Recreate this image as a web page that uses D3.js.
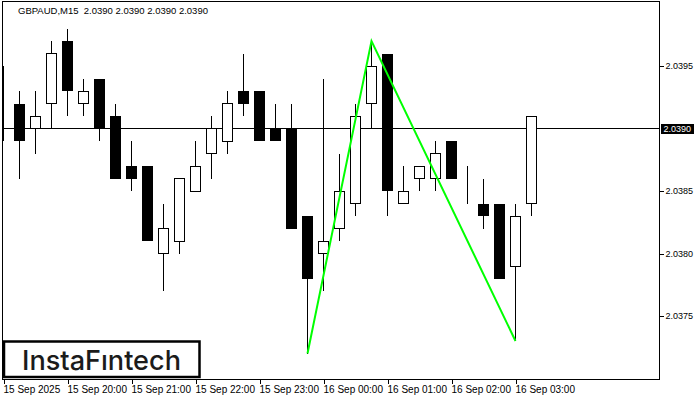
<!DOCTYPE html>
<html><head><meta charset="utf-8">
<script src="https://cdn.jsdelivr.net/npm/d3@7"></script>
<style>body{margin:0;background:#fff}svg{display:block}</style>
</head><body><svg id="c" width="700" height="400"></svg>
<script>
// ---- data (M15 bars) ----
const times = ["19:00","19:15","19:30","19:45","20:00","20:15","20:30","20:45","21:00","21:15","21:30","21:45",
  "22:00","22:15","22:30","22:45","23:00","23:15","23:30","23:45","00:00","00:15","00:30","00:45",
  "01:00","01:15","01:30","01:45","02:00","02:15","02:30","02:45","03:00","03:15"];
const open  = [2.0393,2.0392,2.0390,2.0392,2.0397,2.0392,2.0394,2.0391,2.0387,2.0387,2.0380,2.0381,
  2.0385,2.0388,2.0389,2.0393,2.0393,2.0390,2.0390,2.0383,2.0380,2.0382,2.0384,2.0392,
  2.0396,2.0384,2.0386,2.0386,2.0389,2.0385,2.0384,2.0384,2.0379,2.0384];
const high  = [2.0395,2.0393,2.0393,2.0397,2.0398,2.0394,2.0394,2.0392,2.0389,2.0387,2.0384,2.0386,
  2.0389,2.0391,2.0393,2.0396,2.0393,2.0392,2.0392,2.0383,2.0394,2.0388,2.0392,2.0397,
  2.0396,2.0387,2.0387,2.0389,2.0389,2.0387,2.0386,2.0384,2.0384,2.0391];
const low   = [2.0389,2.0386,2.0388,2.0390,2.0391,2.0391,2.0389,2.0386,2.0385,2.0381,2.0377,2.0380,
  2.0385,2.0386,2.0388,2.0391,2.0389,2.0389,2.0382,2.0372,2.0377,2.0381,2.0383,2.0390,
  2.0383,2.0384,2.0385,2.0385,2.0386,2.0384,2.0382,2.0378,2.0373,2.0383];
const close = [2.0390,2.0389,2.0391,2.0396,2.0393,2.0393,2.0390,2.0386,2.0386,2.0381,2.0382,2.0386,
  2.0387,2.0390,2.0392,2.0392,2.0389,2.0389,2.0382,2.0378,2.0381,2.0385,2.0391,2.0395,
  2.0385,2.0385,2.0387,2.0388,2.0386,2.0385,2.0383,2.0378,2.0383,2.0391];
const xTickIndex  = [0,4,8,12,16,20,24,28,32];
const xTickLabels = ["15 Sep 2025","15 Sep 20:00","15 Sep 21:00","15 Sep 22:00","15 Sep 23:00",
  "16 Sep 00:00","16 Sep 01:00","16 Sep 02:00","16 Sep 03:00"];
const yTicks = [2.0375,2.0380,2.0385,2.0395];
const lastPrice = 2.0390;
const patternIndex = [19,23,32];
const patternPrice = [2.0372,2.0397,2.0373];
const titleText = "GBPAUD,M15  2.0390 2.0390 2.0390 2.0390";
const brandText = "InstaF\u0131ntech";

// ---- layout ----
const svg = d3.select('#c');
const L = 2.5, T = 1.5, R = 659.5, B = 379.5;
const FONT = "'Liberation Sans', Arial, sans-serif";
const x = d3.scaleLinear().domain([0, 1]).range([3.5, 19.5]);
const y = d3.scaleLinear().domain([2.0390, 2.0395]).range([128.5, 66]);

svg.append('rect').attr('width',700).attr('height',400).attr('fill','#fff');

svg.append('clipPath').attr('id','plot').append('rect')
  .attr('x', L + 0.5).attr('y', T + 0.5).attr('width', R - L - 1).attr('height', B - T - 1);

const bars = d3.range(times.length).map(i => ({i, o: open[i], h: high[i], l: low[i], c: close[i]}));
const g = svg.append('g').attr('clip-path','url(#plot)');

// price line
g.append('line').attr('x1', L).attr('x2', R).attr('y1', y(lastPrice)).attr('y2', y(lastPrice))
  .attr('stroke','#000').attr('shape-rendering','crispEdges');

// wicks
g.selectAll('line.w').data(bars).join('line').attr('class','w')
  .attr('x1', d => x(d.i)).attr('x2', d => x(d.i))
  .attr('y1', d => y(d.h)).attr('y2', d => y(d.l))
  .attr('stroke','#000').attr('stroke-width',1).attr('shape-rendering','crispEdges');

// bodies (only bars whose body is fully on screen)
const full = bars.filter(d => x(d.i) - 5.5 >= L);
g.selectAll('rect.bear').data(full.filter(d => d.c < d.o)).join('rect').attr('class','bear')
  .attr('x', d => x(d.i) - 5.5).attr('width', 11)
  .attr('y', d => y(d.o)).attr('height', d => y(d.c) - y(d.o))
  .attr('fill','#000').attr('shape-rendering','crispEdges');
g.selectAll('rect.bull').data(full.filter(d => d.c >= d.o)).join('rect').attr('class','bull')
  .attr('x', d => x(d.i) - 5).attr('width', 10)
  .attr('y', d => y(d.c)).attr('height', d => Math.max(0, y(d.o) - y(d.c)))
  .attr('fill','#fff').attr('stroke','#000').attr('stroke-width',1).attr('shape-rendering','crispEdges');

// pattern line
g.append('path')
  .attr('d', d3.line().x(d => x(d[0])).y(d => y(d[1]))(patternIndex.map((k, j) => [k, patternPrice[j]])))
  .attr('fill','none').attr('stroke','#00ff00').attr('stroke-width',2);

// frame
svg.append('rect').attr('x', L).attr('y', T).attr('width', R - L).attr('height', B - T)
  .attr('fill','none').attr('stroke','#000').attr('shape-rendering','crispEdges');

// right axis
const ya = svg.append('g').attr('transform', `translate(${R},0)`)
  .call(d3.axisRight(y).tickValues(yTicks).tickSize(4).tickPadding(2).tickFormat(d3.format('.4f')));
ya.select('.domain').remove();
ya.selectAll('line').attr('shape-rendering','crispEdges');
ya.selectAll('text').attr('font-family', FONT).attr('font-size', 9).attr('fill','#000');

// last price label
svg.append('rect').attr('x', 661).attr('y', 124).attr('width', 33).attr('height', 10).attr('fill','#000');
svg.append('text').attr('x', 663.5).attr('y', 132.3).text(d3.format('.4f')(lastPrice))
  .attr('font-family', FONT).attr('font-size', 9).attr('fill','#fff');

// bottom axis
const xa = svg.append('g').attr('transform', `translate(0,${B})`)
  .call(d3.axisBottom(x).tickValues(xTickIndex).tickSize(4).tickPadding(2)
    .tickFormat((d, i) => xTickLabels[i]));
xa.select('.domain').remove();
xa.selectAll('line').attr('shape-rendering','crispEdges');
xa.selectAll('text').attr('text-anchor','start').attr('dx', -0.5)
  .attr('font-family', FONT).attr('font-size', 10).attr('fill','#000');

// title
svg.append('text').attr('x', 18).attr('y', 13.7).text(titleText)
  .attr('font-family', FONT).attr('font-size', 9.5).attr('fill','#000').attr('xml:space','preserve')
  .style('white-space','pre');

// brand box
svg.append('rect').attr('x', 4).attr('y', 341.5).attr('width', 195.5).attr('height', 35.5)
  .attr('fill','#fff').attr('stroke','#000').attr('stroke-width', 2.5);
svg.append('text').attr('x', 22).attr('y', 369.5).text(brandText)
  .attr('font-family', "Inter, 'Noto Sans', sans-serif").attr('font-weight', 500)
  .attr('font-size', 27.5).attr('fill','#1b1b1b')
  .attr('textLength', 159).attr('lengthAdjust','spacingAndGlyphs');
</script></body></html>
